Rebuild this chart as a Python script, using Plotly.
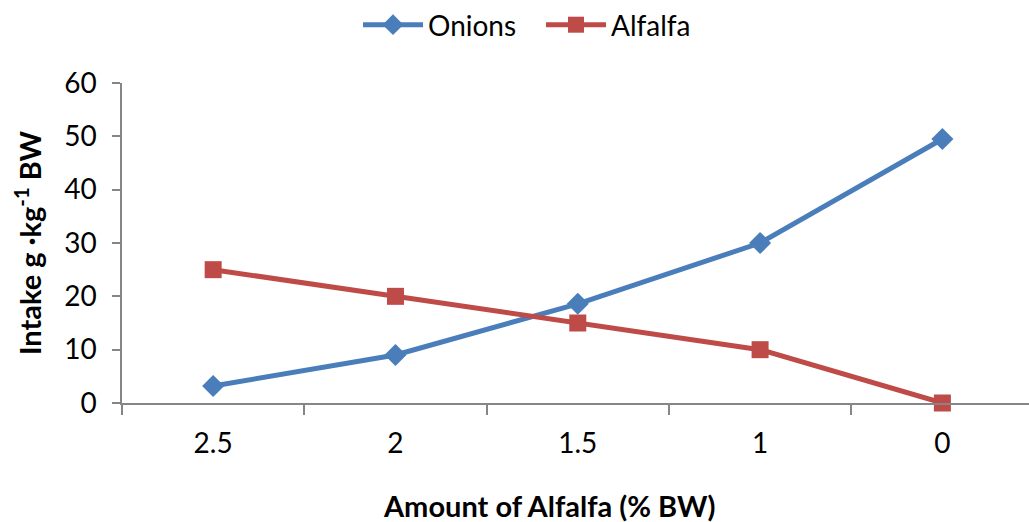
import plotly.graph_objects as go

# Amount of alfalfa offered (% BW) and daily intake per kg body weight
categories = ["2.5", "2", "1.5", "1", "0"]
onions = [3.2, 9.0, 18.6, 30.0, 49.5]
alfalfa = [25, 20, 15, 10, 0]

BLUE = "#4A7EBB"
RED = "#BE4B48"
AXIS = "#868686"
FONT = "Lato, 'Open Sans', sans-serif"

fig = go.Figure()
fig.add_trace(go.Scatter(
    x=categories, y=onions, name="Onions", mode="lines+markers",
    line=dict(color=BLUE, width=5),
    marker=dict(symbol="diamond", size=17, color=BLUE),
    cliponaxis=False,
))
fig.add_trace(go.Scatter(
    x=categories, y=alfalfa, name="Alfalfa", mode="lines+markers",
    line=dict(color=RED, width=5),
    marker=dict(symbol="square", size=17, color=RED),
    cliponaxis=False,
))

fig.update_layout(
    width=1029, height=522,
    margin=dict(l=122, r=0, t=83, b=119),
    paper_bgcolor="white", plot_bgcolor="white",
    font=dict(family=FONT, size=28, color="black"),
    showlegend=True,
    legend=dict(orientation="h", x=358 / 1029, xanchor="left", xref="container",
                y=1.0, yanchor="top", yref="container",
                font=dict(size=28), itemwidth=60,
                entrywidth=108, entrywidthmode="pixels"),
    xaxis=dict(
        type="category", range=[-0.5, 4.475],
        showgrid=False, showline=True, linecolor=AXIS, linewidth=1.5,
        ticks="outside", ticklen=10, tickcolor=AXIS, tickwidth=1.5,
        tickson="boundaries", tickfont=dict(size=28),
        ticklabelstandoff=15,
    ),
    yaxis=dict(
        range=[0, 60], dtick=10, showgrid=False, zeroline=False,
        showline=True, linecolor=AXIS, linewidth=1.5,
        ticks="outside", ticklen=8, tickcolor=AXIS, tickwidth=1.5,
        tickfont=dict(size=28), ticklabelstandoff=10,
        title=dict(text="<b>Intake g ·kg<sup>-1</sup> BW</b>",
                   font=dict(size=29), standoff=14),
    ),
    annotations=[dict(
        text="<b>Amount of Alfalfa (% BW)</b>", xref="paper", yref="paper",
        x=0.471, y=-0.26, xanchor="center", yanchor="top",
        showarrow=False, font=dict(size=29),
    )],
)

fig.write_html("out.html")
